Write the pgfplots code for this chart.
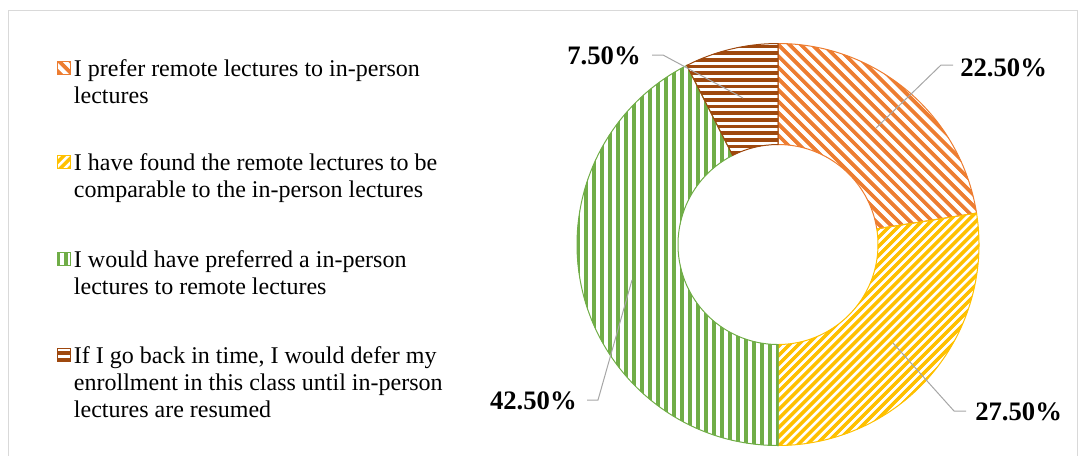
\documentclass[border=0pt]{standalone}
\usepackage{fontspec}
\setmainfont{Liberation Serif}
\usepackage{pgfplots}
\pgfplotsset{compat=1.18}
\usepackage{pgfplotstable}
\usetikzlibrary{patterns,calc}
\definecolor{cA}{HTML}{ED7D31}
\definecolor{cB}{HTML}{FFC000}
\definecolor{cC}{HTML}{70AD47}
\definecolor{cD}{HTML}{9E480E}
\definecolor{leadC}{HTML}{A6A6A6}
\definecolor{frameC}{HTML}{D9D9D9}
% stripe patterns (cells overlap so that no seams show)
\pgfdeclarepatternformonly{stripeA}{\pgfpoint{-8.49pt}{-8.49pt}}{\pgfpoint{16.98pt}{16.98pt}}{\pgfpoint{8.49pt}{8.49pt}}{%
  \pgfsetlinewidth{2.6pt}\pgfpathmoveto{\pgfpoint{-4.245pt}{12.735pt}}\pgfpathlineto{\pgfpoint{12.735pt}{-4.245pt}}\pgfusepath{stroke}}
\pgfdeclarepatternformonly{stripeB}{\pgfpoint{-6.79pt}{-6.79pt}}{\pgfpoint{13.58pt}{13.58pt}}{\pgfpoint{6.79pt}{6.79pt}}{%
  \pgfsetlinewidth{2.4pt}\pgfpathmoveto{\pgfpoint{-3.395pt}{-3.395pt}}\pgfpathlineto{\pgfpoint{10.185pt}{10.185pt}}\pgfusepath{stroke}}
\pgfdeclarepatternformonly{stripeC}{\pgfpoint{0pt}{-1pt}}{\pgfpoint{6pt}{2pt}}{\pgfpoint{6pt}{1pt}}{%
  \pgfpathrectangle{\pgfpoint{0pt}{-1pt}}{\pgfpoint{3pt}{3pt}}\pgfusepath{fill}}
\pgfdeclarepatternformonly{stripeD}{\pgfpoint{-1pt}{0pt}}{\pgfpoint{2pt}{5pt}}{\pgfpoint{1pt}{5pt}}{%
  \pgfpathrectangle{\pgfpoint{-1pt}{0pt}}{\pgfpoint{3pt}{2.8pt}}\pgfusepath{fill}}
\pgfplotstableread{
share
22.5
27.5
42.5
7.5
}\donut
\pgfplotsset{donutleg/.style={legend image code/.code={%
  \draw[##1] (0pt,1.5pt) rectangle (9.6pt,11.1pt);}}}
\tikzset{
  patA/.style={pattern=stripeA,pattern color=cA},
  patB/.style={pattern=stripeB,pattern color=cB},
  patC/.style={pattern=stripeC,pattern color=cC},
  patD/.style={pattern=stripeD,pattern color=cD},
}
\newcommand\tall[1]{\rule{0pt}{#1}}
\begin{document}
\begin{tikzpicture}
\pgfplotstablegetelem{0}{share}\of\donut \let\vA\pgfplotsretval
\pgfplotstablegetelem{1}{share}\of\donut \let\vB\pgfplotsretval
\pgfplotstablegetelem{2}{share}\of\donut \let\vC\pgfplotsretval
\pgfplotstablegetelem{3}{share}\of\donut \let\vD\pgfplotsretval
\pgfmathsetmacro\aO{90}
\pgfmathsetmacro\aA{\aO-3.6*\vA}
\pgfmathsetmacro\aB{\aA-3.6*\vB}
\pgfmathsetmacro\aC{\aB-3.6*\vC}
\pgfmathsetmacro\aD{\aC-3.6*\vD}
\def\Ro{150.75pt}
\def\Ri{75pt}
\begin{axis}[x=0.75pt,y=0.75pt,xmin=0,xmax=1081,ymin=0,ymax=455,y dir=reverse,
  hide axis, clip=false,
  legend style={at={(axis description cs:0.0527,0.8747)},anchor=north west,
    draw=none,fill=none,inner sep=0pt,outer sep=0pt,
    font=\fontsize{18}{20.4}\selectfont,
    row sep=55.2pt, column sep=2.4pt,
    nodes={inner sep=0pt,outer sep=0pt}, cells={anchor=base west}},
]
\addlegendimage{donutleg,draw=cA,line width=0.75pt,patA}
\addlegendentry{\parbox[t]{300pt}{\strut I prefer remote lectures to in-person\\lectures\strut}}
\addlegendimage{donutleg,draw=cB,line width=0.75pt,patB}
\addlegendentry{\parbox[t]{300pt}{\strut I have found the remote lectures to be\\comparable to the in-person lectures\strut}}
\addlegendimage{donutleg,draw=cC,line width=0.75pt,patC}
\addlegendentry{\parbox[t]{300pt}{\tall{15.8pt}I would have preferred a in-person\\lectures to remote lectures\strut}}
\addlegendimage{donutleg,draw=cD,line width=0.75pt,patD}
\addlegendentry{\parbox[t]{300pt}{\tall{15.3pt}If I go back in time, I would defer my\\enrollment in this class until in-person\\lectures are resumed\strut}}

\draw[frameC,line width=0.75pt] (axis cs:8,480) -- (axis cs:8,10) -- (axis cs:1077,10) -- (axis cs:1077,480);

\coordinate (c) at (axis cs:778,244.5);
\draw[cA,line width=0.75pt,patA] ($(c)+(\aO:\Ro)$) arc[start angle=\aO,end angle=\aA,radius=\Ro] -- ($(c)+(\aA:\Ri)$) arc[start angle=\aA,end angle=\aO,radius=\Ri] -- cycle;
\draw[cB,line width=0.75pt,patB] ($(c)+(\aA:\Ro)$) arc[start angle=\aA,end angle=\aB,radius=\Ro] -- ($(c)+(\aB:\Ri)$) arc[start angle=\aB,end angle=\aA,radius=\Ri] -- cycle;
\draw[cC,line width=0.75pt,patC] ($(c)+(\aB:\Ro)$) arc[start angle=\aB,end angle=\aC,radius=\Ro] -- ($(c)+(\aC:\Ri)$) arc[start angle=\aC,end angle=\aB,radius=\Ri] -- cycle;
\draw[cD,line width=0.75pt,patD] ($(c)+(\aC:\Ro)$) arc[start angle=\aC,end angle=\aD,radius=\Ro] -- ($(c)+(\aD:\Ri)$) arc[start angle=\aD,end angle=\aC,radius=\Ri] -- cycle;

\addplot[leadC,line width=0.75pt,no marks,forget plot] coordinates {(876,128) (941,65) (953,65)};
\addplot[leadC,line width=0.75pt,no marks,forget plot] coordinates {(893,343) (954,411) (966,411)};
\addplot[leadC,line width=0.75pt,no marks,forget plot] coordinates {(632,280) (598,400) (587,400)};
\addplot[leadC,line width=0.75pt,no marks,forget plot] coordinates {(743,98) (663,55) (652,55)};

\node[font=\fontsize{20}{23}\selectfont\bfseries,anchor=west,inner sep=0pt] at (axis cs:960,68) {22.50\%};
\node[font=\fontsize{20}{23}\selectfont\bfseries,anchor=west,inner sep=0pt] at (axis cs:975,412) {27.50\%};
\node[font=\fontsize{20}{23}\selectfont\bfseries,anchor=east,inner sep=0pt] at (axis cs:577,401) {42.50\%};
\node[font=\fontsize{20}{23}\selectfont\bfseries,anchor=east,inner sep=0pt] at (axis cs:641,56) {7.50\%};
\end{axis}
\pgfresetboundingbox
\useasboundingbox (current axis.south west) rectangle (current axis.north east);
\end{tikzpicture}
\end{document}
